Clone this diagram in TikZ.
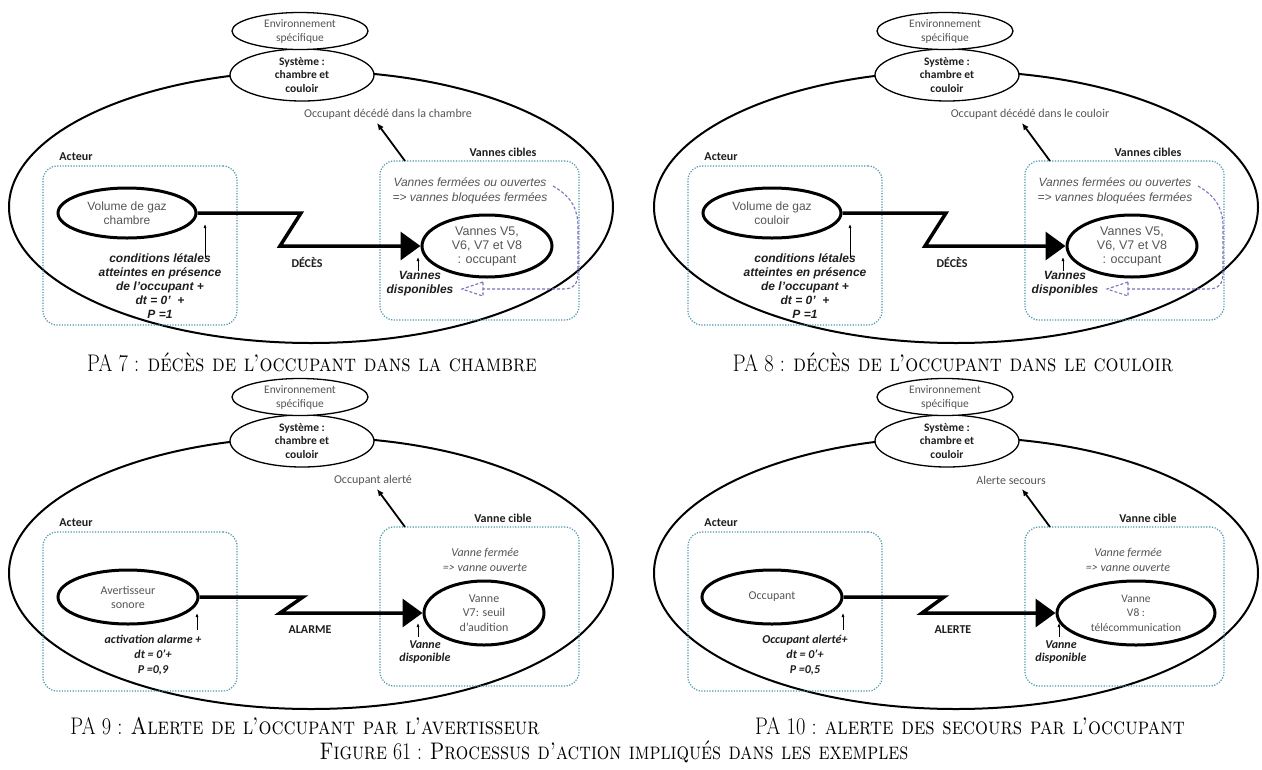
\documentclass[tikz,border=0pt]{standalone}
\usepackage{fontspec}
\usepackage{graphicx}
\usetikzlibrary{shapes.geometric,arrows.meta}
\newfontfamily\carl{Carlito}
\newfontfamily\ari{Liberation Sans}
\definecolor{boxcol}{RGB}{75,150,172}
\definecolor{purp}{RGB}{130,110,185}
\definecolor{gtxt}{RGB}{85,85,85}
\definecolor{dtxt}{RGB}{30,30,30}
\tikzset{
 bigell/.style={ellipse, draw, line width=2pt, minimum width=604pt, minimum height=272pt, inner sep=0pt},
 envell/.style={ellipse, draw, line width=1.3pt, fill=white, minimum width=136pt, minimum height=37pt, inner sep=0pt, align=center, text=gtxt, font=\carl\fontsize{11.5}{14}\selectfont},
 sysell/.style={ellipse, draw, line width=1.3pt, fill=white, minimum width=144pt, minimum height=52pt, inner sep=0pt, align=center, text=dtxt, font=\carl\bfseries\fontsize{11.5}{13.7}\selectfont},
 outtxt/.style={inner sep=0pt, text=gtxt, font=\carl\fontsize{12}{14}\selectfont},
 lbl/.style={inner sep=0pt, text=dtxt, font=\carl\bfseries\fontsize{12}{14}\selectfont},
 abox/.style={draw=boxcol, line width=1.2pt, dash pattern=on 1.2pt off 1.5pt, rounded corners=14pt, minimum width=194pt, minimum height=159pt, inner sep=0pt},
 tbox/.style={abox, minimum width=199pt},
 outarrow/.style={line width=1.8pt, -{Latex[length=7pt,width=6pt]}},
 smarr/.style={line width=0.7pt, -{Latex[length=4pt,width=3pt]}},
 zig/.style={line width=3.5pt, line join=miter, -{Triangle[length=20pt,width=28pt]}},
 purpl/.style={draw=purp, line width=1.1pt, dash pattern=on 3pt off 2pt},
 innell/.style={ellipse, draw, line width=3pt, inner sep=0pt, align=center, text=gtxt},
 actA/.style={innell, minimum width=138pt, minimum height=50pt, font=\ari\fontsize{12}{14}\selectfont},
 actB/.style={innell, minimum width=140pt, minimum height=54pt, font=\carl\fontsize{12}{14}\selectfont},
 tgtA/.style={innell, minimum width=130pt, minimum height=62pt, font=\ari\fontsize{12.5}{14}\selectfont},
 tgtB/.style={innell, minimum width=120pt, minimum height=64pt, font=\carl\fontsize{12}{14.5}\selectfont},
 tgtD/.style={innell, minimum width=158pt, minimum height=64pt, font=\carl\fontsize{11.5}{14.5}\selectfont},
 declbl/.style={inner sep=0pt, text=dtxt, font=\carl\bfseries\fontsize{12}{14}\selectfont},
 condA/.style={inner sep=0pt, align=center, text=dtxt, font=\ari\bfseries\itshape\fontsize{12}{14}\selectfont},
 condB/.style={inner sep=0pt, align=center, text=dtxt, font=\carl\bfseries\itshape\fontsize{12}{15}\selectfont},
 transA/.style={inner sep=0pt, align=center, text=gtxt, font=\ari\itshape\fontsize{12}{15}\selectfont},
 transB/.style={inner sep=0pt, align=center, text=gtxt, font=\carl\itshape\fontsize{12}{15}\selectfont},
 dispA/.style={inner sep=0pt, align=center, text=dtxt, font=\ari\bfseries\itshape\fontsize{12}{14}\selectfont},
 dispB/.style={inner sep=0pt, align=center, text=dtxt, font=\carl\bfseries\itshape\fontsize{12}{13}\selectfont},
 captxt/.style={inner sep=0pt, text=black, font=\fontsize{24}{27}\selectfont},
}
\newcommand\panelbase[4]{%
 \node[bigell] (#1big) at (311,207) {};
 \node[sysell] (#1sys) at (302,75) {Système :\\chambre et\\couloir};
 \node[envell] (#1env) at (300,31) {Environnement\\spécifique};
 \node[outtxt] (#1out) at (#3,114) {#2};
 \node[abox] (#1abox) at (140,245.5) {};
 \node[tbox] (#1tbox) at (479.5,240.5) {};
 \node[lbl] (#1alab) at (76,157) {Acteur};
 \node[lbl] (#1tlab) at (503,152) {#4};
 \coordinate (#1from) at (405,161);
 \coordinate (#1tip) at (377,123);
 \draw[outarrow] (#1from) -- (#1tip);
}
\newcommand\purplearrow[1]{%
 \coordinate (#1p1) at (553,186);
 \coordinate (#1p2) at (483,289);
 \coordinate (#1p3) at (462,289);
 \draw[purpl] (#1p1) .. controls (574,198) and (578,212) .. (578,228) -- (578,272) .. controls (578,284) and (574,289) .. (563,289) -- (#1p2);
 \draw[purpl] (483,282) -- (#1p3) -- (483,296) -- cycle;
}
\begin{document}
\begin{tikzpicture}[x=1pt,y=-1pt]
\fill[white] (0,0) rectangle (1262,769);
\useasboundingbox (0,0) rectangle (1262,769);

% ---------- PA 7
\begin{scope}
\panelbase{a}{Occupant décédé dans la chambre}{388}{Vannes cibles}
\node[actA] (aact) at (127,213) {Volume de gaz\\chambre};
\node[tgtA] (atgt) at (487,246) {Vannes V5,\\V6, V7 et V8\\: occupant};
\draw[zig] (aact.east) -- (301,213) -- (280,246) -- (atgt.west);
\node[declbl] (adec) at (307,262) {DÉCÈS};
\node[condA] (acond) at (160,286) {conditions létales\\atteintes en présence\\de l’occupant +\\dt = 0’~ +\\P =1};
\coordinate (aq1) at (205,257); \coordinate (aq2) at (205,224);
\draw[smarr] (aq1) -- (aq2);
\node[transA] (atr) at (470,190.5) {Vannes fermées ou ouvertes\\=> vannes bloquées fermées};
\node[dispA] (adi) at (420,284) {Vannes\\disponibles};
\coordinate (ar1) at (418,271); \coordinate (ar2) at (418,257);
\draw[smarr] (ar1) -- (ar2);
\purplearrow{a}
\end{scope}

% ---------- PA 8
\begin{scope}[shift={(645,0)}]
\panelbase{b}{Occupant décédé dans le couloir}{385}{Vannes cibles}
\node[actA] (bact) at (127,213) {Volume de gaz\\couloir};
\node[tgtA] (btgt) at (487,246) {Vannes V5,\\V6, V7 et V8\\: occupant};
\draw[zig] (bact.east) -- (301,213) -- (280,246) -- (btgt.west);
\node[declbl] (bdec) at (307,262) {DÉCÈS};
\node[condA] (bcond) at (160,286) {conditions létales\\atteintes en présence\\de l’occupant +\\dt = 0’~ +\\P =1};
\coordinate (bq1) at (205,257); \coordinate (bq2) at (205,224);
\draw[smarr] (bq1) -- (bq2);
\node[transA] (btr) at (470,190.5) {Vannes fermées ou ouvertes\\=> vannes bloquées fermées};
\node[dispA] (bdi) at (420,284) {Vannes\\disponibles};
\coordinate (br1) at (418,271); \coordinate (br2) at (418,257);
\draw[smarr] (br1) -- (br2);
\purplearrow{b}
\end{scope}

% ---------- PA 9
\begin{scope}[shift={(0,366)}]
\panelbase{c}{Occupant alerté}{373}{Vanne cible}
\node[actB] (cact) at (128,231) {Avertisseur\\sonore};
\node[tgtB] (ctgt) at (484,247) {Vanne\\V7: seuil\\d’audition};
\draw[zig] (cact.east) -- (303,231) -- (280,247) -- (ctgt.west);
\node[declbl] (cdec) at (310,264) {ALARME};
\node[condB] (ccond) at (153,289) {activation alarme +\\dt = 0’+\\P =0,9};
\coordinate (cq1) at (197,264); \coordinate (cq2) at (197,247);
\draw[smarr] (cq1) -- (cq2);
\node[transB] (ctr) at (485,193.5) {Vanne fermée\\=> vanne ouverte};
\node[dispB] (cdi) at (425,286.5) {Vanne\\disponible};
\coordinate (cr1) at (418,271); \coordinate (cr2) at (418,257);
\draw[smarr] (cr1) -- (cr2);
\end{scope}

% ---------- PA 10
\begin{scope}[shift={(645,366)}]
\panelbase{d}{Alerte secours}{366}{Vanne cible}
\node[actB] (dact) at (127,231) {Occupant};
\node[tgtD] (dtgt) at (491,247) {Vanne\\V8 :\\télécommunication};
\draw[zig] (dact.east) -- (299,231) -- (277,247) -- (dtgt.west);
\node[declbl] (ddec) at (308,264) {ALERTE};
\node[condB] (dcond) at (160,289) {Occupant alerté+\\dt = 0’+\\P =0,5};
\coordinate (dq1) at (198,264); \coordinate (dq2) at (198,247);
\draw[smarr] (dq1) -- (dq2);
\node[transB] (dtr) at (483,193.5) {Vanne fermée\\=> vanne ouverte};
\node[dispB] (ddi) at (416,286.5) {Vanne\\disponible};
\coordinate (dr1) at (414,271); \coordinate (dr2) at (414,257);
\draw[smarr] (dr1) -- (dr2);
\end{scope}

% ---------- captions
\node[captxt] (cap7) at (312,362) {\scalebox{0.85}[1]{PA 7 : \textsc{décès de l’occupant dans la chambre}}};
\node[captxt] (cap8) at (953,362) {\scalebox{0.85}[1]{PA 8 : \textsc{décès de l’occupant dans le couloir}}};
\node[captxt] (cap9) at (305,726) {\scalebox{0.85}[1]{PA 9 : \textsc{Alerte de l’occupant par l’avertisseur}}};
\node[captxt] (cap10) at (970,726) {\scalebox{0.85}[1]{PA 10 : \textsc{alerte des secours par l’occupant}}};
\node[captxt] (capfig) at (614,752) {\scalebox{0.82}[1]{\textsc{Figure} 61 : \textsc{Processus d’action impliqués dans les exemples}}};
\end{tikzpicture}
\end{document}
